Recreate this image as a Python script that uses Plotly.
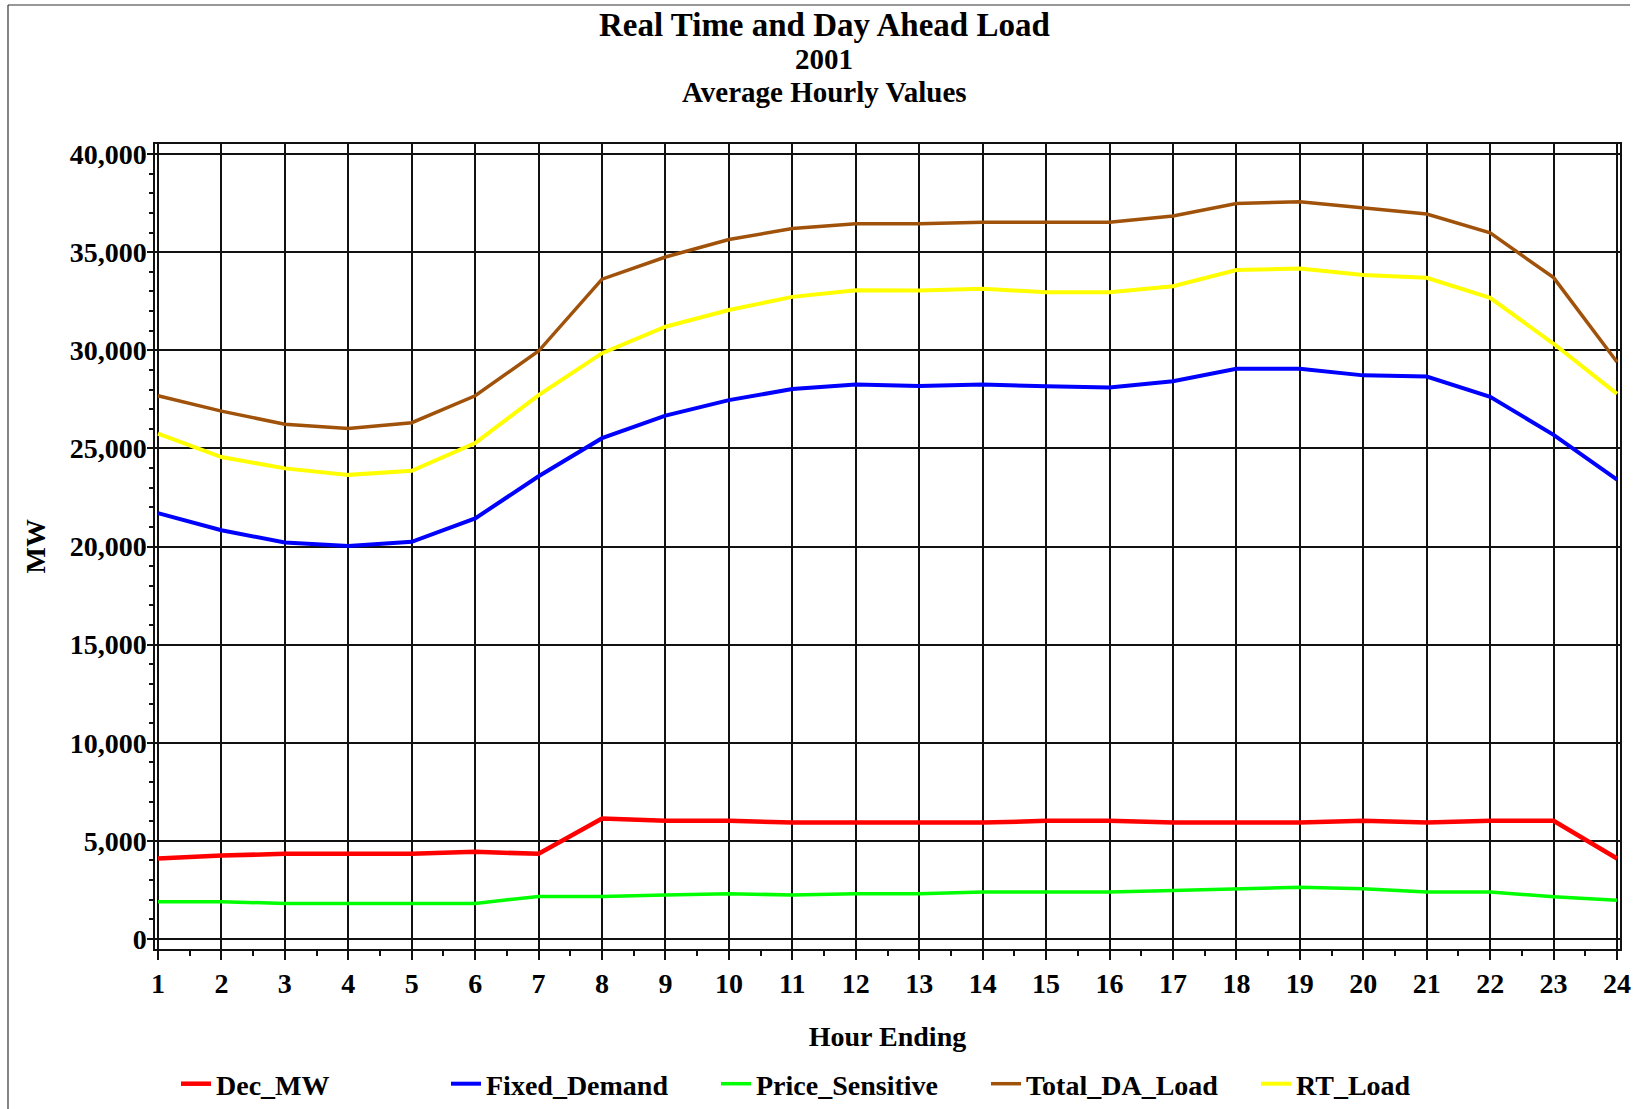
import plotly.graph_objects as go

hours = list(range(1, 25))
dec_mw = [4100, 4250, 4340, 4340, 4340, 4440, 4340, 6140, 6020, 6020, 5930, 5930,
          5930, 5930, 6020, 6020, 5930, 5930, 5930, 6020, 5930, 6020, 6020, 4100]
fixed_demand = [21700, 20830, 20200, 20020, 20240, 21430, 23580, 25520, 26670, 27460, 28020, 28250,
                28180, 28250, 28170, 28100, 28420, 29060, 29060, 28720, 28660, 27630, 25690, 23410]
price_sensitive = [1900, 1900, 1810, 1810, 1810, 1810, 2170, 2170, 2240, 2310, 2240, 2310,
                   2310, 2390, 2390, 2390, 2470, 2560, 2640, 2560, 2390, 2390, 2150, 1980]
total_da_load = [27680, 26900, 26230, 26010, 26310, 27680, 29960, 33620, 34750, 35640, 36200, 36450,
                 36440, 36520, 36520, 36520, 36840, 37480, 37570, 37250, 36940, 35980, 33700, 29400]
rt_load = [25750, 24560, 23980, 23650, 23860, 25270, 27710, 29850, 31200, 32050, 32720, 33060,
           33040, 33130, 32960, 32960, 33260, 34090, 34160, 33840, 33690, 32670, 30330, 27780]

series = [
    ("Dec_MW", dec_mw, "#FF0000", 4.5),
    ("Fixed_Demand", fixed_demand, "#0000FF", 4),
    ("Price_Sensitive", price_sensitive, "#00FF00", 3.5),
    ("Total_DA_Load", total_da_load, "#A0520A", 3.5),
    ("RT_Load", rt_load, "#FFFF00", 4),
]

FONT = dict(family="Liberation Serif", color="black", weight="bold")

fig = go.Figure()
for name, vals, color, w in series:
    fig.add_trace(go.Scatter(x=hours, y=vals, name=name, mode="lines",
                             line=dict(color=color, width=w)))

W, H = 1637, 1109
L, R, T, B = 155, 17, 144, 160

fig.update_layout(
    width=W, height=H,
    margin=dict(l=L, r=R, t=T, b=B, autoexpand=False),
    paper_bgcolor="white", plot_bgcolor="white",
    font=dict(**FONT, size=28),
    showlegend=True,
    legend=dict(orientation="h", xref="container", yref="container",
                x=176 / W, y=1 - 1084 / H, xanchor="left", yanchor="middle",
                entrywidth=225, entrywidthmode="pixels",
                font=dict(**FONT, size=28), bgcolor="rgba(0,0,0,0)",
                itemwidth=30),
    xaxis=dict(range=[0.953, 24.047], tickmode="array", tickvals=hours,
               ticktext=[str(h) for h in hours],
               showgrid=True, gridcolor="#111", gridwidth=1.5,
               zeroline=False, showline=True, linecolor="#111", linewidth=1.5, mirror=True,
               ticks="outside", ticklen=9, tickwidth=1.5, tickcolor="#111",
               minor=dict(dtick=0.5, tick0=0.5, ticks="outside", ticklen=5, tickwidth=1.5,
                          tickcolor="#111", showgrid=False),
               tickfont=dict(**FONT, size=28),
               title=dict(text="Hour Ending", font=dict(**FONT, size=28), standoff=28)),
    yaxis=dict(range=[-510, 40510], tickmode="linear", tick0=0, dtick=5000,
               tickformat=",d",
               showgrid=True, gridcolor="#111", gridwidth=1.5,
               zeroline=False, showline=True, linecolor="#111", linewidth=1.5, mirror=True,
               ticks="outside", ticklen=6, tickwidth=1.5, tickcolor="#111",
               ticklabelstandoff=-5,
               minor=dict(dtick=1000, tick0=0, ticks="outside", ticklen=4, tickwidth=1.5,
                          tickcolor="#111", showgrid=False),
               tickfont=dict(**FONT, size=28)),
)

def px_to_paper_x(px):
    return (px - L) / (W - L - R)

def px_to_paper_y(py):
    return (H - B - py) / (H - T - B)

titles = [("Real Time and Day Ahead Load", 33, 25),
          ("2001", 29, 59),
          ("Average Hourly Values", 29, 92)]
for text, size, ypx in titles:
    fig.add_annotation(text=text, xref="paper", yref="paper",
                       x=px_to_paper_x(824), y=px_to_paper_y(ypx),
                       xanchor="center", yanchor="middle", showarrow=False,
                       font=dict(**FONT, size=size))

# y-axis title
fig.add_annotation(text="MW", xref="paper", yref="paper",
                   x=px_to_paper_x(35), y=0.5, textangle=-90,
                   xanchor="center", yanchor="middle", showarrow=False,
                   font=dict(**FONT, size=28))

# outer frame lines (top and left)
fig.add_shape(type="line", xref="paper", yref="paper",
              x0=px_to_paper_x(8), y0=px_to_paper_y(5), x1=px_to_paper_x(1630), y1=px_to_paper_y(5),
              line=dict(color="#333", width=1.2))
fig.add_shape(type="line", xref="paper", yref="paper",
              x0=px_to_paper_x(8), y0=px_to_paper_y(5), x1=px_to_paper_x(8), y1=px_to_paper_y(1109),
              line=dict(color="#333", width=1.2))

fig.write_html("out.html", config={"displayModeBar": False},
               post_script="document.body.style.margin='0';document.body.style.overflow='hidden';")
